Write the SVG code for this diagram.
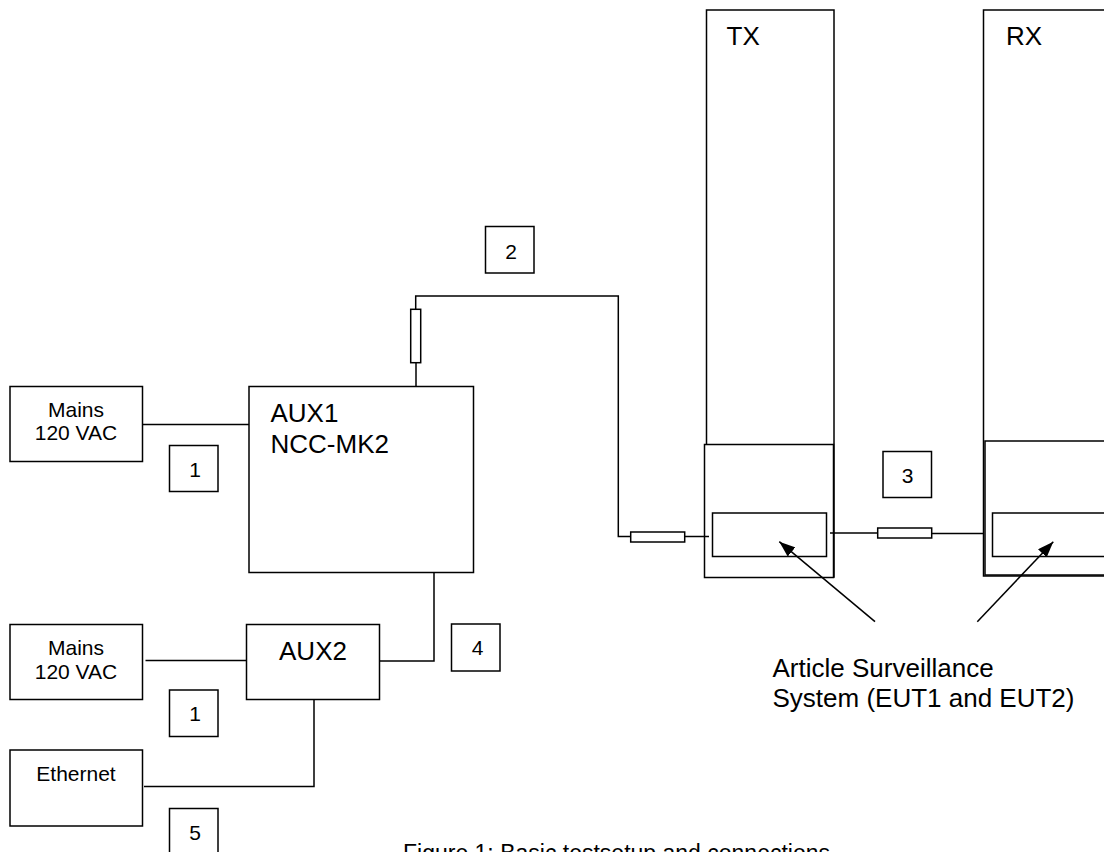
<svg xmlns="http://www.w3.org/2000/svg" width="1104" height="852" viewBox="0 0 1104 852">
<style>
.b{fill:#fff;stroke:#000;stroke-width:1.5}
.l{fill:none;stroke:#000;stroke-width:1.5}
.t{font-family:"Liberation Sans",Arial,sans-serif;fill:#000}
.s{font-size:21px}
.m{font-size:26px}
</style>
<defs>
<marker id="ah" markerUnits="userSpaceOnUse" viewBox="0 0 16 12" refX="16" refY="6" markerWidth="16" markerHeight="12" orient="auto">
<path d="M0,0 L16,6 L0,12 z" fill="#000"/>
</marker>
</defs>
<rect width="1104" height="852" fill="#fff"/>
<g id="tx">
<rect class="b" x="706.5" y="10" width="127.5" height="567"/>
<text class="t m" x="726.5" y="45">TX</text>
<rect class="b" x="704.5" y="444.5" width="129" height="133"/>
<rect class="b" x="712.5" y="513" width="114" height="43.5"/>
</g>
<g id="rx">
<rect class="b" x="983.5" y="10" width="140" height="566"/>
<text class="t m" x="1006" y="45">RX</text>
<rect class="b" x="985" y="441" width="140" height="134"/>
<rect class="b" x="992.5" y="513" width="130" height="43.5"/>
</g>
<g id="aux1">
<rect class="b" x="249" y="386.5" width="224.5" height="186"/>
<text class="t m" x="270.5" y="421.5">AUX1</text>
<text class="t m" x="270.5" y="453">NCC-MK2</text>
</g>
<g id="aux2">
<rect class="b" x="246.5" y="624.5" width="133" height="75"/>
<text class="t m" x="313" y="660" text-anchor="middle">AUX2</text>
</g>
<g id="mains1">
<rect class="b" x="10" y="386.5" width="132.5" height="75"/>
<text class="t s" x="76" y="416.5" text-anchor="middle">Mains</text>
<text class="t s" x="76" y="440" text-anchor="middle">120 VAC</text>
</g>
<g id="mains2">
<rect class="b" x="10" y="624.5" width="132.5" height="75"/>
<text class="t s" x="76" y="655" text-anchor="middle">Mains</text>
<text class="t s" x="76" y="679" text-anchor="middle">120 VAC</text>
</g>
<g id="ethernet">
<rect class="b" x="10" y="750" width="132.5" height="76"/>
<text class="t s" x="76" y="781" text-anchor="middle">Ethernet</text>
</g>
<g id="label1a">
<rect class="b" x="169.5" y="445.5" width="48.5" height="46"/>
<text class="t s" x="195" y="476.5" text-anchor="middle">1</text>
</g>
<g id="label1b">
<rect class="b" x="169.5" y="690" width="48.5" height="46.5"/>
<text class="t s" x="195" y="720.5" text-anchor="middle">1</text>
</g>
<g id="label5">
<rect class="b" x="169.5" y="808.5" width="48.5" height="60"/>
<text class="t s" x="195" y="839.5" text-anchor="middle">5</text>
</g>
<g id="label2">
<rect class="b" x="485.5" y="226.5" width="48.5" height="46.5"/>
<text class="t s" x="511" y="258.5" text-anchor="middle">2</text>
</g>
<g id="label4">
<rect class="b" x="451.5" y="624" width="48.5" height="47"/>
<text class="t s" x="477.5" y="655" text-anchor="middle">4</text>
</g>
<g id="label3">
<rect class="b" x="883" y="451.5" width="48.5" height="46"/>
<text class="t s" x="907.5" y="483" text-anchor="middle">3</text>
</g>
<g id="connectors">
<polyline class="l" points="142.5,424.5 249,424.5"/>
<polyline class="l" points="145.5,660.5 246.5,660.5"/>
<polyline class="l" points="379.5,661 434,661 434,572.5"/>
<polyline class="l" points="144,786.5 314,786.5 314,699.5"/>
<polyline class="l" points="416,386.5 416,362.5"/>
<rect class="b" x="410.7" y="309.3" width="10" height="53.4"/>
<polyline class="l" points="415.7,309.3 415.7,296 618.3,296 618.3,536.5 630.7,536.5"/>
<rect class="b" x="630.7" y="532" width="54" height="10"/>
<polyline class="l" points="684.7,536.5 709,536.5"/>
<polyline class="l" points="830,533 877.7,533"/>
<rect class="b" x="877.7" y="528" width="54" height="10"/>
<polyline class="l" points="931.7,533.5 984,533.5"/>
<line class="l" x1="875" y1="621.7" x2="779.3" y2="541.7" marker-end="url(#ah)"/>
<line class="l" x1="977.3" y1="621.7" x2="1053.3" y2="541.7" marker-end="url(#ah)"/>
</g>
<g id="caption">
<text class="t m" x="772.5" y="677.3">Article Surveillance</text>
<text class="t m" x="772.5" y="706.7">System (EUT1 and EUT2)</text>
<text class="t" font-size="23" x="403" y="861">Figure 1: Basic testsetup and connections</text>
</g>
</svg>
